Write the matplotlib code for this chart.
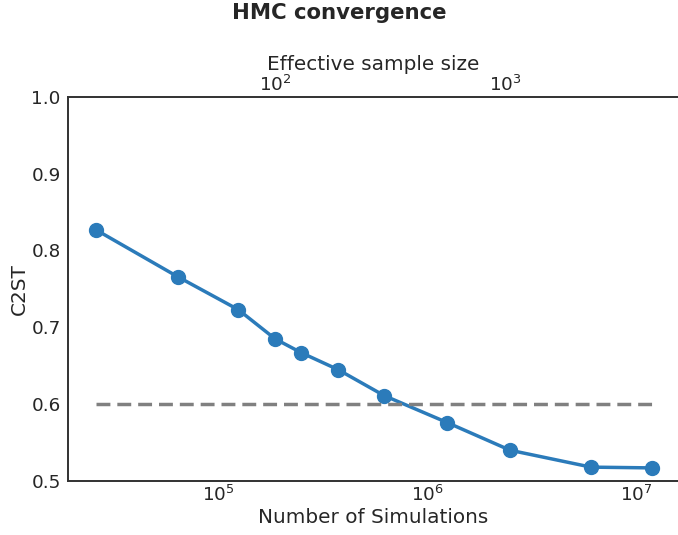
import matplotlib
matplotlib.use('Agg')
import matplotlib.pyplot as plt
import numpy as np

# Number of simulations vs. classifier two-sample test accuracy
n_sims = [26000, 64000, 125000, 187500, 250000, 375000, 625000,
          1250000, 2500000, 6100000, 12000000]
c2st = [0.827, 0.766, 0.723, 0.685, 0.667, 0.645, 0.611,
        0.576, 0.540, 0.518, 0.517]
threshold = 0.6
ess_range = (12.6, 5650)  # effective sample size at the x-limits
sims_range = (1.91e4, 1.59e7)

text_col = '#262626'
plt.rcParams.update({
    'font.family': 'DejaVu Sans',
    'text.color': text_col,
    'axes.labelcolor': text_col,
    'xtick.color': text_col,
    'ytick.color': text_col,
    'axes.edgecolor': '#333333',
    'axes.linewidth': 1.25,
})

fig = plt.figure(figsize=(6.78, 5.35), dpi=100)
ax = fig.add_axes([0.1, 0.101, 0.9, 0.718])

ax.plot(n_sims, c2st, '-o', color='#2b7bba', linewidth=2.5, markersize=10)
ax.plot([n_sims[0], n_sims[-1]], [threshold, threshold], '--',
        color='#808080', linewidth=2.5, dashes=(4, 2))

ax.set_xscale('log')
ax.set_xlim(*sims_range)
ax.set_ylim(0.5, 1.0)
ax.set_yticks([0.5, 0.6, 0.7, 0.8, 0.9, 1.0])
ax.xaxis.set_minor_locator(matplotlib.ticker.NullLocator())
ax.tick_params(length=0, labelsize=13.2, pad=5)
ax.tick_params(axis='x', pad=3)
ax.set_xlabel('Number of Simulations', fontsize=14.4, labelpad=2)
ax.set_ylabel('C2ST', fontsize=14.4, labelpad=2)
ax.spines['right'].set_visible(False)

top = ax.twiny()
top.set_xscale('log')
top.set_xlim(*ess_range)
top.xaxis.set_minor_locator(matplotlib.ticker.NullLocator())
top.set_xticks([1e2, 1e3])
top.tick_params(length=0, labelsize=13.2, pad=1)
top.set_xlabel('Effective sample size', fontsize=14.4, labelpad=4)
top.spines['right'].set_visible(False)

fig.suptitle('HMC convergence', fontsize=15.3, fontweight='bold', y=0.995)

fig.savefig('out.png', dpi=100)
plt.close()
